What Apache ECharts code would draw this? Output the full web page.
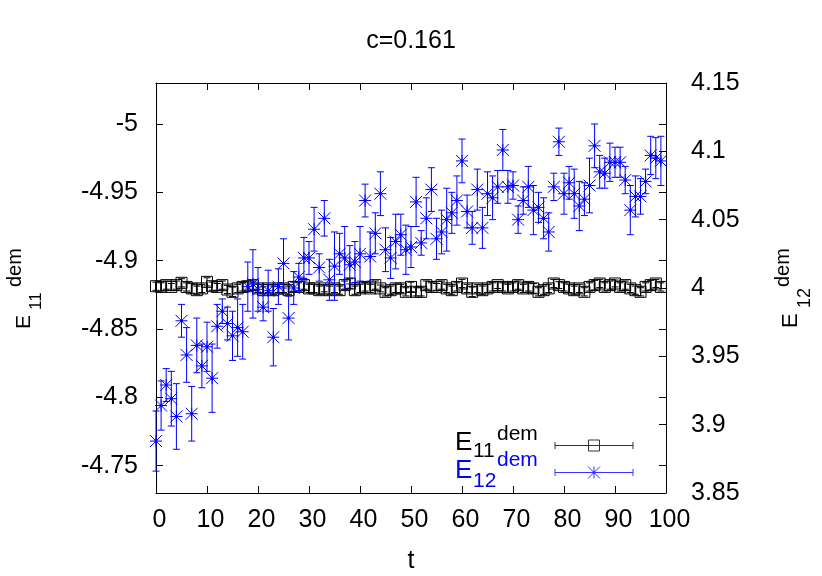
<!DOCTYPE html>
<html lang="en">
<head>
<meta charset="UTF-8">
<title>c=0.161</title>
<script src="https://cdn.jsdelivr.net/npm/echarts@6/dist/echarts.min.js"></script>
<style>
  html, body { margin: 0; padding: 0; background: #fff; }
  #chart { width: 822px; height: 576px; }
</style>
</head>
<body>
<div id="chart"></div>
<script>
// time steps
const tSteps = [
  0, 1, 2, 3, 4, 5, 6, 7, 8, 9, 10, 11, 12, 13, 14, 15, 16, 17, 18, 19,
  20, 21, 22, 23, 24, 25, 26, 27, 28, 29, 30, 31, 32, 33, 34, 35, 36, 37, 38, 39,
  40, 41, 42, 43, 44, 45, 46, 47, 48, 49, 50, 51, 52, 53, 54, 55, 56, 57, 58, 59,
  60, 61, 62, 63, 64, 65, 66, 67, 68, 69, 70, 71, 72, 73, 74, 75, 76, 77, 78, 79,
  80, 81, 82, 83, 84, 85, 86, 87, 88, 89, 90, 91, 92, 93, 94, 95, 96, 97, 98, 99
];

// E11^dem (left axis)
const e11Values = [
  -4.8813, -4.8808, -4.8821, -4.8808, -4.8821, -4.8838, -4.8808, -4.8797, -4.8784, -4.8797,
  -4.8845, -4.8813, -4.8808, -4.8821, -4.8789, -4.8772, -4.8797, -4.8808, -4.8813, -4.8821,
  -4.8797, -4.8784, -4.8797, -4.8784, -4.8797, -4.8797, -4.8784, -4.8808, -4.8808, -4.8821,
  -4.8797, -4.8797, -4.8784, -4.8797, -4.8784, -4.8797, -4.8784, -4.8821, -4.8833, -4.8784,
  -4.8797, -4.8808, -4.8797, -4.8821, -4.8797, -4.8772, -4.8784, -4.8797, -4.8797, -4.8772,
  -4.8808, -4.8772, -4.8772, -4.8821, -4.8808, -4.8808, -4.8821, -4.8797, -4.8784, -4.8808,
  -4.8833, -4.8797, -4.8772, -4.8797, -4.8784, -4.8797, -4.8808, -4.8821, -4.8808, -4.8797,
  -4.8808, -4.8821, -4.8797, -4.8808, -4.8797, -4.8772, -4.8784, -4.8797, -4.8833, -4.8821,
  -4.8808, -4.8797, -4.8784, -4.8797, -4.8772, -4.8808, -4.8821, -4.8833, -4.8808, -4.8821,
  -4.8833, -4.8808, -4.8821, -4.8797, -4.8784, -4.8772, -4.8808, -4.8821, -4.8833, -4.8808
];
const e11Errors = [
  0.003, 0.003, 0.003, 0.0025, 0.003, 0.003, 0.003, 0.0035, 0.003, 0.003,
  0.003, 0.003, 0.0025, 0.003, 0.003, 0.0035, 0.003, 0.003, 0.003, 0.003,
  0.003, 0.0025, 0.003, 0.003, 0.003, 0.003, 0.003, 0.0035, 0.003, 0.003,
  0.003, 0.003, 0.003, 0.0025, 0.003, 0.003, 0.003, 0.003, 0.0035, 0.003,
  0.003, 0.003, 0.003, 0.003, 0.0025, 0.003, 0.003, 0.003, 0.003, 0.003,
  0.0035, 0.003, 0.003, 0.003, 0.003, 0.0025, 0.003, 0.003, 0.003, 0.003,
  0.003, 0.003, 0.0035, 0.003, 0.003, 0.003, 0.003, 0.0025, 0.003, 0.003,
  0.003, 0.003, 0.003, 0.003, 0.0035, 0.003, 0.003, 0.003, 0.003, 0.0025,
  0.003, 0.003, 0.003, 0.003, 0.003, 0.003, 0.0035, 0.003, 0.003, 0.003,
  0.0025, 0.003, 0.003, 0.003, 0.003, 0.003, 0.003, 0.0035, 0.003, 0.003
];

// E12^dem (right axis)
const e12Values = [
  3.888, 3.914, 3.929, 3.919, 3.906, 3.976, 3.951, 3.908, 3.958, 3.943,
  3.957, 3.934, 3.972, 3.983, 3.974, 3.965, 3.971, 3.968, 4.001, 4.003,
  3.999, 3.986, 3.998, 3.964, 4.001, 4.018, 3.978, 4.000, 4.008, 4.022,
  4.022, 4.043, 4.015, 4.051, 4.006, 4.016, 4.025, 4.022, 4.017, 4.019,
  4.025, 4.064, 4.023, 4.040, 4.069, 4.028, 4.022, 4.034, 4.039, 4.028,
  4.030, 4.063, 4.033, 4.051, 4.072, 4.036, 4.041, 4.050, 4.055, 4.064,
  4.093, 4.056, 4.044, 4.072, 4.044, 4.069, 4.066, 4.074, 4.101, 4.074,
  4.075, 4.050, 4.064, 4.074, 4.057, 4.059, 4.051, 4.041, 4.074, 4.107,
  4.069, 4.077, 4.069, 4.060, 4.065, 4.075, 4.104, 4.085, 4.084, 4.092,
  4.092, 4.092, 4.079, 4.057, 4.067, 4.067, 4.078, 4.097, 4.095, 4.093
];
const e12Errors = [
  0.022, 0.018, 0.012, 0.020, 0.024, 0.012, 0.020, 0.020, 0.020, 0.016,
  0.018, 0.025, 0.016, 0.009, 0.012, 0.018, 0.021, 0.020, 0.018, 0.025,
  0.016, 0.010, 0.015, 0.021, 0.013, 0.018, 0.016, 0.012, 0.010, 0.015,
  0.012, 0.016, 0.010, 0.013, 0.015, 0.025, 0.015, 0.023, 0.014, 0.015,
  0.020, 0.012, 0.018, 0.015, 0.016, 0.016, 0.015, 0.020, 0.015, 0.018,
  0.015, 0.018, 0.009, 0.015, 0.016, 0.015, 0.016, 0.023, 0.015, 0.018,
  0.016, 0.012, 0.012, 0.015, 0.015, 0.016, 0.016, 0.012, 0.015, 0.012,
  0.010, 0.010, 0.010, 0.015, 0.018, 0.011, 0.015, 0.014, 0.010, 0.010,
  0.015, 0.012, 0.018, 0.018, 0.012, 0.020, 0.016, 0.012, 0.011, 0.014,
  0.011, 0.011, 0.010, 0.018, 0.015, 0.013, 0.009, 0.014, 0.015, 0.018
];

// axis ranges and tick steps
const tRange = [0, 100];
const tStep = 10;
const leftRange = [-5.03, -4.73];
const rightRange = [3.85, 4.15];
const yStep = 0.05;

const FONT = 'Liberation Sans';
const BLUE = '#0000ff';

function seg(x1, y1, x2, y2, color) {
  return { type: 'line', shape: { x1: x1, y1: y1, x2: x2, y2: y2 }, style: { stroke: color, lineWidth: 1 } };
}

function squareMark(x, y, color) {
  return [{ type: 'rect', shape: { x: x - 5.5, y: y - 5.5, width: 11, height: 11 }, style: { fill: null, stroke: color, lineWidth: 1 } }];
}

function starMark(x, y, color) {
  const s = 6;
  return [
    seg(x - s, y, x + s, y, color),
    seg(x, y - s, x, y + s, color),
    seg(x - s, y - s, x + s, y + s, color),
    seg(x - s, y + s, x + s, y - s, color),
    { type: 'circle', shape: { cx: x, cy: y, r: 1.5 }, style: { fill: color } }
  ];
}

function errorBars(mark, color) {
  return function (params, api) {
    const t = api.value(0), v = api.value(1), e = api.value(2);
    const p = api.coord([t, v]);
    const lo = api.coord([t, v - e]);
    const hi = api.coord([t, v + e]);
    const cap = 3.5;
    const kids = [
      seg(p[0], lo[1], p[0], hi[1], color),
      seg(p[0] - cap, lo[1], p[0] + cap, lo[1], color),
      seg(p[0] - cap, hi[1], p[0] + cap, hi[1], color)
    ].concat(mark(p[0], p[1], color));
    return { type: 'group', children: kids };
  };
}

function txt(x, y, text, size, color) {
  return {
    type: 'text', x: x, y: y,
    style: { text: text, fontSize: size, fontFamily: FONT, fill: color, align: 'left', verticalAlign: 'middle' }
  };
}

function legendSample(y, mark, color) {
  return [
    seg(555, y, 633, y, color),
    seg(555, y - 3.5, 555, y + 3.5, color),
    seg(633, y - 3.5, 633, y + 3.5, color)
  ].concat(mark(594, y, color));
}

const e11Data = tSteps.map((t, i) => [t, e11Values[i], e11Errors[i]]);
const e12Data = tSteps.map((t, i) => [t, e12Values[i], e12Errors[i]]);

// onZero off, otherwise the right axis ticks jump to t=0
const axisLine = { show: true, onZero: false, lineStyle: { color: '#000', width: 1 } };
const axisTick = { show: true, inside: true, length: 7, lineStyle: { color: '#000', width: 1 } };
const labelStyle = { color: '#000', fontSize: 25, fontFamily: FONT };

// left scale: min is not a multiple of the step, so let the scale
// find the nice ticks itself (step pinned through min/maxInterval)
const leftScale = {
  type: 'value', min: leftRange[0], max: leftRange[1], inverse: true,
  splitNumber: 6, minInterval: yStep, maxInterval: yStep,
  splitLine: { show: false }
};

const chart = echarts.init(document.getElementById('chart'), null, { renderer: 'canvas' });
chart.setOption({
  animation: false,
  backgroundColor: '#fff',
  title: {
    text: 'c=0.161', left: 'center', top: 29, padding: 0,
    textStyle: { fontSize: 25, fontWeight: 'normal', fontFamily: FONT, color: '#000' }
  },
  grid: { left: 156, top: 83, width: 510, height: 410, containLabel: false, outerBoundsMode: 'none' },
  xAxis: [
    {
      type: 'value', position: 'bottom', min: tRange[0], max: tRange[1], interval: tStep,
      name: 't', nameLocation: 'middle', nameGap: 56, nameTextStyle: labelStyle,
      axisLine: axisLine, axisTick: axisTick, splitLine: { show: false },
      axisLabel: Object.assign({ margin: 15, padding: [0, 0, 0, 7], showMinLabel: true, showMaxLabel: true }, labelStyle)
    },
    {
      type: 'value', position: 'top', min: tRange[0], max: tRange[1], interval: tStep,
      axisLine: axisLine, axisTick: axisTick, splitLine: { show: false },
      axisLabel: { show: false }
    }
  ],
  yAxis: [
    Object.assign({}, leftScale, {
      position: 'left', axisLine: axisLine, axisTick: axisTick,
      axisLabel: Object.assign({ margin: 18, showMinLabel: false, showMaxLabel: false }, labelStyle)
    }),
    {
      type: 'value', position: 'right', min: rightRange[0], max: rightRange[1], interval: yStep,
      axisLine: axisLine, axisTick: axisTick, splitLine: { show: false },
      axisLabel: Object.assign({ margin: 25, showMinLabel: true, showMaxLabel: true }, labelStyle)
    },
    Object.assign({}, leftScale, {
      position: 'right', axisLine: { show: false, onZero: false }, axisTick: axisTick,
      axisLabel: { show: false }
    })
  ],
  series: [
    {
      name: 'E11 dem', type: 'custom', xAxisIndex: 0, yAxisIndex: 0, clip: false,
      encode: { x: 0, y: 1 },
      renderItem: errorBars(squareMark, '#000'),
      data: e11Data
    },
    {
      name: 'E12 dem', type: 'custom', xAxisIndex: 0, yAxisIndex: 1, clip: false,
      encode: { x: 0, y: 1 },
      renderItem: errorBars(starMark, BLUE),
      data: e12Data
    }
  ],
  graphic: {
    elements: [
      // left axis title E_11^dem
      {
        type: 'group', x: 0, y: 329, rotation: Math.PI / 2,
        children: [
          txt(0, 24.5, 'E', 21, '#000'),
          txt(19, 36.5, '11', 17, '#000'),
          txt(42, 15.8, 'dem', 20, '#000')
        ]
      },
      // right axis title E_12^dem
      {
        type: 'group', x: 0, y: 328, rotation: Math.PI / 2,
        children: [
          txt(0, 790.5, 'E', 22, '#000'),
          txt(20, 805, '12', 18, '#000'),
          txt(41, 783, 'dem', 20, '#000')
        ]
      },
      // key
      {
        type: 'group',
        children: [
          txt(455, 443, 'E', 26, '#000'),
          txt(473, 451.5, '11', 21, '#000'),
          txt(497, 434.5, 'dem', 21, '#000'),
          txt(455, 471, 'E', 26, BLUE),
          txt(473, 481.5, '12', 21, BLUE),
          txt(497, 460.5, 'dem', 21, BLUE)
        ].concat(legendSample(445.5, squareMark, '#333'), legendSample(472.5, starMark, '#3333ff'))
      }
    ]
  }
});
</script>
</body>
</html>
